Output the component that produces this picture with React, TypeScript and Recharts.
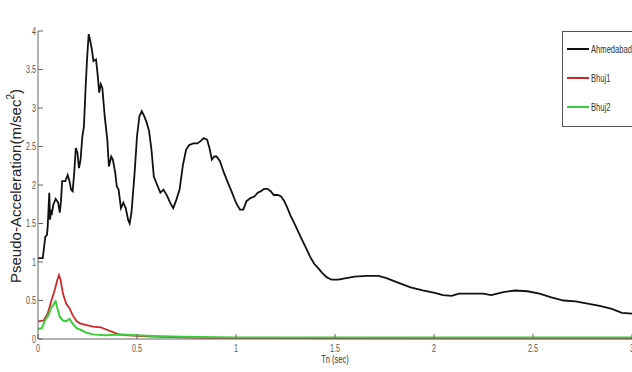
import React from 'react';
import { LineChart, Line, XAxis, YAxis, Label } from 'recharts';

const xTicks = [0, 0.5, 1, 1.5, 2, 2.5, 3];
const yTicks = [0, 0.5, 1, 1.5, 2, 2.5, 3, 3.5, 4];

const ahmedabad = [
  [0, 1.05], [0.024, 1.05], [0.037, 1.33], [0.045, 1.35], [0.049, 1.46], [0.057, 1.9], [0.061, 1.55],
  [0.065, 1.68], [0.069, 1.61], [0.077, 1.74], [0.089, 1.82], [0.102, 1.77], [0.11, 1.64], [0.116, 1.79],
  [0.122, 2.05], [0.138, 2.05], [0.15, 2.13], [0.159, 2.05], [0.167, 1.94], [0.175, 1.92], [0.183, 2.16],
  [0.191, 2.48], [0.199, 2.42], [0.207, 2.22], [0.215, 2.33], [0.224, 2.63], [0.232, 2.76], [0.24, 3.24],
  [0.248, 3.65], [0.256, 3.96], [0.264, 3.87], [0.272, 3.76], [0.28, 3.61], [0.293, 3.63], [0.301, 3.44],
  [0.309, 3.2], [0.317, 3.31], [0.325, 3.26], [0.337, 2.89], [0.35, 2.59], [0.358, 2.24], [0.37, 2.37],
  [0.378, 2.33], [0.39, 2.16], [0.398, 1.98], [0.407, 1.94], [0.419, 1.7], [0.431, 1.77], [0.443, 1.7],
  [0.455, 1.55], [0.463, 1.5], [0.472, 1.64], [0.488, 2.16], [0.5, 2.63], [0.512, 2.89], [0.524, 2.96],
  [0.537, 2.89], [0.549, 2.81], [0.561, 2.7], [0.573, 2.46], [0.585, 2.11], [0.602, 2.0], [0.618, 1.9],
  [0.634, 1.94], [0.654, 1.85], [0.667, 1.77], [0.683, 1.7], [0.699, 1.81], [0.715, 1.94], [0.732, 2.26],
  [0.748, 2.46], [0.764, 2.52], [0.785, 2.54], [0.805, 2.54], [0.821, 2.57], [0.837, 2.61], [0.854, 2.59],
  [0.866, 2.48], [0.878, 2.33], [0.89, 2.37], [0.902, 2.37], [0.919, 2.31], [0.939, 2.16], [0.959, 2.03],
  [0.98, 1.9], [1.0, 1.77], [1.02, 1.68], [1.037, 1.68], [1.053, 1.79], [1.073, 1.83], [1.093, 1.85],
  [1.11, 1.9], [1.126, 1.92], [1.142, 1.95], [1.159, 1.95], [1.175, 1.92], [1.191, 1.87], [1.211, 1.87],
  [1.228, 1.85], [1.244, 1.79], [1.26, 1.7], [1.276, 1.6], [1.293, 1.51], [1.313, 1.4], [1.333, 1.29],
  [1.354, 1.18], [1.374, 1.07], [1.394, 0.98], [1.415, 0.92], [1.435, 0.86], [1.459, 0.8], [1.484, 0.77],
  [1.516, 0.77], [1.557, 0.79], [1.598, 0.81], [1.659, 0.82], [1.72, 0.82], [1.76, 0.79], [1.821, 0.73],
  [1.882, 0.67], [1.943, 0.63], [2.004, 0.6], [2.045, 0.57], [2.089, 0.56], [2.126, 0.59], [2.187, 0.59],
  [2.248, 0.59], [2.289, 0.57], [2.35, 0.61], [2.41, 0.63], [2.472, 0.62], [2.533, 0.59], [2.593, 0.54],
  [2.654, 0.5], [2.715, 0.49], [2.776, 0.46], [2.837, 0.43], [2.898, 0.39], [2.949, 0.34], [3.0, 0.33],
];

const bhuj1 = [
  [0, 0.23], [0.028, 0.24], [0.049, 0.33], [0.069, 0.51], [0.085, 0.64], [0.098, 0.77], [0.106, 0.83],
  [0.114, 0.77], [0.126, 0.59], [0.142, 0.46], [0.159, 0.4], [0.175, 0.31], [0.195, 0.23], [0.215, 0.2],
  [0.246, 0.18], [0.276, 0.16], [0.317, 0.15], [0.348, 0.12], [0.378, 0.09], [0.409, 0.06], [0.439, 0.05],
  [0.5, 0.04], [0.581, 0.03], [0.724, 0.02], [0.825, 0.015], [1.0, 0.012], [2.0, 0.01], [3.0, 0.01],
];

const bhuj2 = [
  [0, 0.13], [0.02, 0.14], [0.037, 0.25], [0.053, 0.31], [0.065, 0.4], [0.077, 0.44], [0.089, 0.49],
  [0.098, 0.4], [0.11, 0.29], [0.126, 0.24], [0.142, 0.23], [0.159, 0.26], [0.175, 0.2], [0.195, 0.14],
  [0.215, 0.12], [0.246, 0.08], [0.276, 0.06], [0.337, 0.05], [0.419, 0.06], [0.5, 0.05], [0.581, 0.04],
  [0.724, 0.03], [1.0, 0.02], [2.0, 0.02], [3.0, 0.02],
];

const toRows = (arr: number[][]) => arr.map(([t, a]) => ({ t, a }));

const series = [
  { name: 'Ahmedabad', color: '#111111', width: 1.8, data: toRows(ahmedabad) },
  { name: 'Bhuj1', color: '#cc2a2a', width: 1.8, data: toRows(bhuj1) },
  { name: 'Bhuj2', color: '#3ccc3c', width: 2, data: toRows(bhuj2) },
];

const FONT = '"Liberation Sans", Arial, sans-serif';
const TICK_COLOR = '#555';
const FRAME = '#666';

const NarrowText = ({ x, y, anchor, size, sx, fill, children }: any) => (
  <text
    transform={`translate(${x} ${y}) scale(${sx} 1)`}
    x={0}
    y={0}
    textAnchor={anchor}
    fontSize={size}
    fill={fill}
    fontFamily={FONT}
  >
    {children}
  </text>
);

const BottomTick = (p: any) => (
  <g>
    <line x1={p.x} y1={p.y} x2={p.x} y2={p.y - 5} stroke={FRAME} strokeWidth={1} />
    <NarrowText x={p.x} y={p.y + 13} anchor="middle" size={10} sx={0.72} fill={TICK_COLOR}>
      {p.payload.value}
    </NarrowText>
  </g>
);
const TopTick = (p: any) => (
  <line x1={p.x} y1={p.y} x2={p.x} y2={p.y + 5} stroke={FRAME} strokeWidth={1} />
);
const LeftTick = (p: any) => (
  <g>
    <line x1={p.x} y1={p.y} x2={p.x + 5} y2={p.y} stroke={FRAME} strokeWidth={1} />
    <NarrowText x={p.x - 2} y={p.y + 3.5} anchor="end" size={10} sx={0.72} fill={TICK_COLOR}>
      {p.payload.value}
    </NarrowText>
  </g>
);
const RightTick = (p: any) => (
  <line x1={p.x} y1={p.y} x2={p.x - 5} y2={p.y} stroke={FRAME} strokeWidth={1} />
);

const LegendBox = () => (
  <div
    style={{
      position: 'absolute',
      left: 562,
      top: 31,
      width: 80,
      height: 96,
      border: '1px solid #555',
      background: '#fff',
      boxSizing: 'border-box',
    }}
  >
    {series.map((s, i) => (
      <div
        key={s.name}
        style={{ position: 'absolute', left: 4, top: 11 + i * 29, height: 12, display: 'flex', alignItems: 'center' }}
      >
        <div style={{ width: 22, height: 2, background: s.color }} />
        <span
          style={{
            fontFamily: FONT,
            fontSize: 10,
            color: '#333',
            marginLeft: 2,
            display: 'inline-block',
            transform: 'scaleX(0.76)',
            transformOrigin: 'left center',
            whiteSpace: 'nowrap',
          }}
        >
          {s.name}
        </span>
      </div>
    ))}
  </div>
);

export default function App() {
  return (
    <div style={{ position: 'absolute', left: 0, top: 0, width: 632, height: 372, background: '#fff', overflow: 'hidden' }}>
      <LineChart width={632} height={372} margin={{ top: 31, right: 0, bottom: 0, left: 0 }}>
        <XAxis
          xAxisId="b"
          dataKey="t"
          type="number"
          domain={[0, 3]}
          ticks={xTicks}
          height={33}
          tickSize={0}
          tickMargin={0}
          tickLine={false}
          axisLine={{ stroke: FRAME }}
          tick={<BottomTick />}
          interval={0}
          allowDataOverflow
        >
          <Label
            content={() => (
              <NarrowText x={335} y={363} anchor="middle" size={10} sx={0.75} fill="#333">
                Tn (sec)
              </NarrowText>
            )}
          />
        </XAxis>
        <XAxis
          xAxisId="t"
          orientation="top"
          dataKey="t"
          type="number"
          domain={[0, 3]}
          ticks={xTicks}
          height={0}
          tickSize={0}
          tickMargin={0}
          tickLine={false}
          axisLine={{ stroke: FRAME }}
          tick={<TopTick />}
          interval={0}
        >
          <Label
            content={() => (
              <NarrowText x={334} y={21} anchor="middle" size={13} sx={0.82} fill="#222">
                Kachchh (2001)
              </NarrowText>
            )}
          />
        </XAxis>
        <YAxis
          yAxisId="l"
          type="number"
          domain={[0, 4]}
          ticks={yTicks}
          width={38}
          tickSize={0}
          tickMargin={0}
          tickLine={false}
          axisLine={{ stroke: FRAME }}
          tick={<LeftTick />}
          interval={0}
        >
          <Label
            content={() => (
              <text
                x={21}
                y={186}
                transform="rotate(-90 21 186)"
                textAnchor="middle"
                fontSize={15}
                fill="#222"
                fontFamily={FONT}
              >
                Pseudo-Acceleration(m/sec
                <tspan fontSize={10} dy={-7}>2</tspan>
                <tspan dy={7}>)</tspan>
              </text>
            )}
          />
        </YAxis>
        <YAxis
          yAxisId="r"
          orientation="right"
          type="number"
          domain={[0, 4]}
          ticks={yTicks}
          width={0}
          tickSize={0}
          tickMargin={0}
          tickLine={false}
          axisLine={{ stroke: FRAME }}
          tick={<RightTick />}
          interval={0}
        />
        {series.map((s) => (
          <Line
            key={s.name}
            xAxisId="b"
            yAxisId="l"
            data={s.data}
            dataKey="a"
            name={s.name}
            stroke={s.color}
            strokeWidth={s.width}
            dot={false}
            activeDot={false}
            type="linear"
            isAnimationActive={false}
          />
        ))}
      </LineChart>
      <LegendBox />
    </div>
  );
}
